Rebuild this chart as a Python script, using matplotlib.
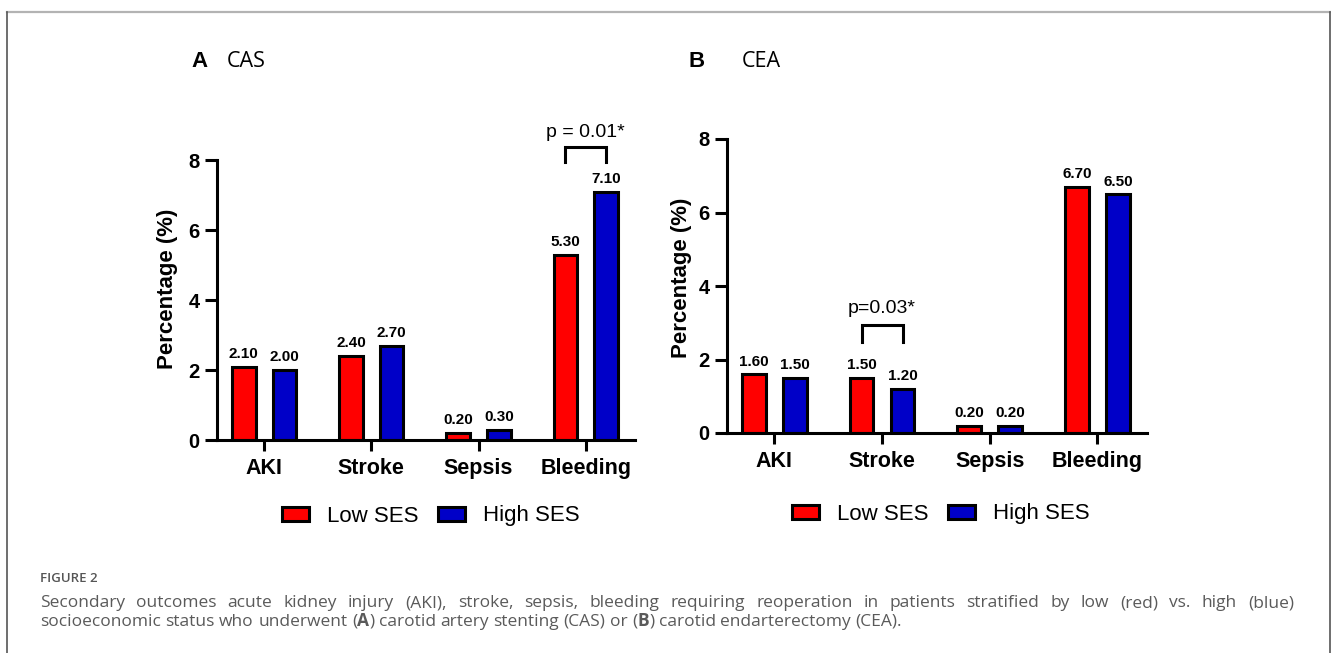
import matplotlib
matplotlib.use('Agg')
import matplotlib.pyplot as plt
from matplotlib.lines import Line2D
from matplotlib.patches import Patch

plt.rcParams['font.family'] = ['Liberation Sans', 'DejaVu Sans']

categories = ['AKI', 'Stroke', 'Sepsis', 'Bleeding']
cas_low = [2.10, 2.40, 0.20, 5.30]
cas_high = [2.00, 2.70, 0.30, 7.10]
cea_low = [1.60, 1.50, 0.20, 6.70]
cea_high = [1.50, 1.20, 0.20, 6.50]
yticks = [0, 2, 4, 6, 8]

red = '#FF0000'
blue = '#0000C8'
W, H = 1331, 653

fig = plt.figure(figsize=(W / 100, H / 100), dpi=100)
fig.patch.set_facecolor('white')


def px(x, y):
    # pixel (from top-left) to figure fraction
    return x / W, 1 - y / H


def panel(rect, low, high, sig_idx, sig_text, sig_y, leg_xy, ylab_xy):
    ax = fig.add_axes(rect)
    xs = list(range(len(categories)))
    off, bw = 0.19, 0.22
    b1 = ax.bar([x - off for x in xs], low, bw, color=red, edgecolor='black', linewidth=2.2)
    b2 = ax.bar([x + off for x in xs], high, bw, color=blue, edgecolor='black', linewidth=2.2)
    for bars, vals in ((b1, low), (b2, high)):
        for b, v in zip(bars, vals):
            ax.annotate(f'{v:.2f}', (b.get_x() + b.get_width() / 2, v), xytext=(0, 4),
                        textcoords='offset points', ha='center', va='bottom',
                        fontsize=11, fontweight='bold')
    ax.set_xlim(-0.44, 3.46)
    ax.set_ylim(0, 8)
    ax.set_yticks(yticks)
    ax.set_xticks(xs)
    ax.set_xticklabels(categories, fontsize=15.5, fontweight='bold')
    for lab in ax.get_yticklabels():
        lab.set_fontsize(14.5)
        lab.set_fontweight('bold')
    ax.tick_params(axis='y', length=9, width=2.2, pad=3.5)
    ax.tick_params(axis='x', length=8, width=2.2, pad=5)
    for s in ('top', 'right'):
        ax.spines[s].set_visible(False)
    for s in ('left', 'bottom'):
        ax.spines[s].set_linewidth(2.2)

    # significance bracket
    xa, xb = sig_idx - off, sig_idx + off
    top, bottom, ty = sig_y
    ax.plot([xa, xa, xb, xb], [bottom, top, top, bottom], color='black', lw=2.2,
            clip_on=False, solid_joinstyle='miter')
    ax.text(sig_idx, ty, sig_text, ha='center', va='baseline', fontsize=14, clip_on=False)

    handles = [Patch(facecolor=red, edgecolor='black', linewidth=2.2),
               Patch(facecolor=blue, edgecolor='black', linewidth=2.2)]
    fig.legend(handles, ['Low SES', 'High SES'], loc='center', bbox_to_anchor=px(*leg_xy),
               ncol=2, frameon=False, fontsize=16, handlelength=1.2, handleheight=0.6,
               handletextpad=0.85, columnspacing=0.85)
    fig.text(*px(*ylab_xy), 'Percentage (%)', rotation=90, ha='center', va='center',
             fontsize=16, fontweight='bold')
    return ax


panel([217 / W, 1 - 440 / H, (635 - 217) / W, 280 / H], cas_low, cas_high,
      3, 'p = 0.01*', (8.37, 7.94, 8.66), (431, 516), (168, 289))
panel([727 / W, 1 - 433 / H, (1147 - 727) / W, 294 / H], cea_low, cea_high,
      1, 'p=0.03*', (2.94, 2.48, 3.27), (941, 514), (682, 278))

# panel headings
fig.text(*px(191, 67), 'A', fontsize=16, fontweight='bold', va='baseline')
fig.text(*px(227, 67), 'CAS', fontsize=15.5, family='Open Sans', va='baseline')
fig.text(*px(688, 67), 'B', fontsize=16, fontweight='bold', va='baseline')
fig.text(*px(742, 67), 'CEA', fontsize=15.5, family='Open Sans', va='baseline')

# frame
fig.add_artist(Line2D([7 / W, 1], [1 - 12 / H] * 2, color='#b3b3b3', lw=1.6))
fig.add_artist(Line2D([7 / W] * 2, [0, 1 - 12 / H], color='#555555', lw=1.2))
fig.add_artist(Line2D([1330 / W] * 2, [0, 1 - 12 / H], color='#555555', lw=1.2))

# caption
cap_kw = dict(family='Open Sans', fontsize=12.5, color='#5a5a5a', va='baseline')
fig.text(*px(40, 582), 'FIGURE 2', family='Open Sans', fontsize=9.5, fontweight='semibold',
         color='#555555', va='baseline')

renderer = fig.canvas.get_renderer()


def width(s, **kw):
    t = fig.text(0, 0, s, **kw)
    w = t.get_window_extent(renderer).width
    t.remove()
    return w


line1 = ('Secondary outcomes acute kidney injury (AKI), stroke, sepsis, bleeding requiring '
         'reoperation in patients stratified by low (red) vs. high (blue)').split()
x0, x1 = 40, 1294
ws = [width(w, **cap_kw) for w in line1]
gap = (x1 - x0 - sum(ws)) / (len(line1) - 1)
x = x0
for w, wd in zip(line1, ws):
    fig.text(*px(x, 607), w, **cap_kw)
    x += wd + gap

runs = [('socioeconomic status who underwent (', 'normal'), ('A', 'bold'),
        (') carotid artery stenting (CAS) or (', 'normal'), ('B', 'bold'),
        (') carotid endarterectomy (CEA).', 'normal')]
space = width('a a', **cap_kw) - width('aa', **cap_kw)
x = x0
for s, wt in runs:
    parts = s.split(' ')
    for i, p in enumerate(parts):
        if p:
            fig.text(*px(x, 626), p, fontweight=wt, **cap_kw)
            x += width(p, fontweight=wt, **cap_kw)
        if i < len(parts) - 1:
            x += space

fig.savefig('out.png', dpi=100)
